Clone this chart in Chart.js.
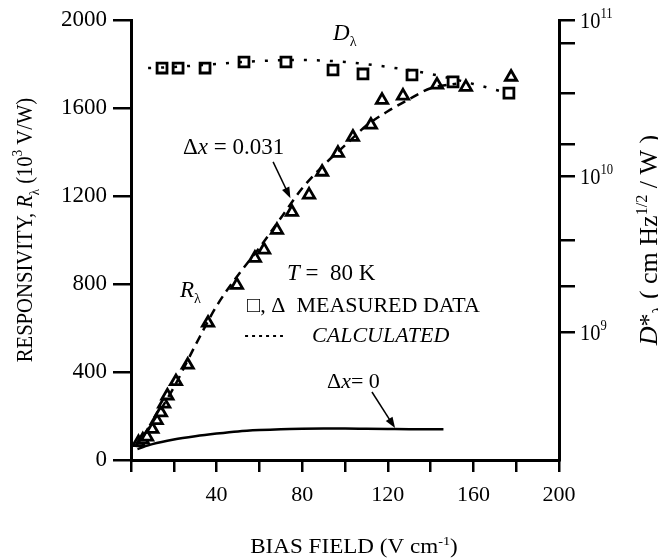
<!DOCTYPE html>
<html>
<head>
<meta charset="utf-8">
<script src="https://cdn.jsdelivr.net/npm/chart.js@4.4.1/dist/chart.umd.min.js"></script>
<style>
  html, body { margin: 0; padding: 0; background: #fff; }
  canvas { display: block; }
</style>
</head>
<body>
<canvas id="myChart" width="658" height="559"></canvas>
<script>
// measured responsivity (triangles), 10^3 V/W vs bias field V/cm
const rMeasField = [3.5, 5.5, 7.5, 10, 12, 14, 15.5, 17, 21, 26.5, 36, 49.5, 57.9, 62.2, 68.2, 75.2, 83.2, 89.3, 96.7, 103.7, 112.1, 117.3, 127.1, 143, 156.5, 177.6];
const rMeasValue = [80, 92, 105, 140, 180, 215, 255, 292, 357, 432, 623, 795, 918, 955, 1045, 1127, 1205, 1309, 1395, 1468, 1523, 1636, 1655, 1705, 1695, 1741];

// calculated responsivity, dx = 0.031 (dashed)
const rCalcField = [2, 10, 20, 30, 40, 50, 60, 70, 80, 90, 100, 110, 120, 130, 140, 152];
const rCalcValue = [60, 170, 330, 520, 700, 840, 965, 1100, 1235, 1340, 1430, 1520, 1585, 1640, 1690, 1710];

// calculated responsivity, dx = 0 (solid)
const rZeroField = [3, 10, 20, 30, 40, 50, 60, 70, 80, 90, 100, 110, 120, 130, 140, 146];
const rZeroValue = [50, 72, 93, 108, 120, 130, 136, 140, 142, 143, 143, 142, 141, 140, 140, 140];

// measured detectivity (squares), cm Hz^1/2 / W
const dMeasField = [14.5, 22, 34.6, 52.8, 72.4, 94.4, 108.4, 131.3, 150.5, 176.6];
const dMeasValue = [4.92e10, 4.92e10, 4.92e10, 5.38e10, 5.38e10, 4.78e10, 4.51e10, 4.44e10, 4.01e10, 3.4e10];

// calculated detectivity (dotted)
const dCalcField = [8, 20, 40, 60, 80, 100, 120, 140, 160, 176];
const dCalcValue = [4.92e10, 5.0e10, 5.23e10, 5.46e10, 5.54e10, 5.38e10, 5.0e10, 4.51e10, 3.89e10, 3.4e10];

const rightTickValues = [1e9, 1.95e9, 3.9e9, 1e10, 1.6e10, 3.4e10, 7.1e10, 1e11];
const rightTickLabels = { 1e9: "9", 1e10: "10", 1e11: "11" };

const serif = '"Liberation Serif", "Times New Roman", serif';

function pts(xs, ys) {
  return xs.map((x, i) => ({ x, y: ys[i] }));
}

function setFont(ctx, style, size) {
  const small = style.includes("sub") || style.includes("sup");
  const fs = small ? size * 0.62 : size;
  ctx.font = `${style.startsWith("i") ? "italic " : ""}${fs}px ${serif}`;
}

function runOffset(style, size) {
  if (style.includes("sub")) return size * 0.28;
  if (style.includes("sup")) return -size * 0.4;
  return 0;
}

// draws a row of text pieces (italic / sub / sup) starting at a baseline point
function drawRuns(ctx, runs, x, y, size, opts = {}) {
  const { align = "left", rot = 0, sx = 1, sy = 1 } = opts;
  ctx.save();
  ctx.translate(x, y);
  ctx.rotate(rot);
  ctx.scale(sx, sy);
  ctx.textBaseline = "alphabetic";
  ctx.textAlign = "left";
  ctx.fillStyle = "#000";
  let w = 0;
  for (const [t, s = ""] of runs) {
    setFont(ctx, s, size);
    w += ctx.measureText(t).width;
  }
  let cx = align === "center" ? -w / 2 : align === "right" ? -w : 0;
  for (const [t, s = ""] of runs) {
    setFont(ctx, s, size);
    ctx.fillText(t, cx, runOffset(s, size));
    cx += ctx.measureText(t).width;
  }
  ctx.restore();
}

function arrow(ctx, x1, y1, x2, y2) {
  const a = Math.atan2(y2 - y1, x2 - x1);
  ctx.save();
  ctx.strokeStyle = "#000";
  ctx.fillStyle = "#000";
  ctx.lineWidth = 1.5;
  ctx.beginPath();
  ctx.moveTo(x1, y1);
  ctx.lineTo(x2 - 6 * Math.cos(a), y2 - 6 * Math.sin(a));
  ctx.stroke();
  ctx.beginPath();
  ctx.moveTo(x2, y2);
  ctx.lineTo(x2 - 11 * Math.cos(a) + 4 * Math.sin(a), y2 - 11 * Math.sin(a) - 4 * Math.cos(a));
  ctx.lineTo(x2 - 11 * Math.cos(a) - 4 * Math.sin(a), y2 - 11 * Math.sin(a) + 4 * Math.cos(a));
  ctx.closePath();
  ctx.fill();
  ctx.restore();
}

const labels = {
  id: "labels",
  afterDraw(chart) {
    const ctx = chart.ctx;
    const xs = chart.scales.x;
    const ys = chart.scales.y;
    const y2 = chart.scales.y2;
    const px = (v) => xs.getPixelForValue(v);
    const py = (v) => ys.getPixelForValue(v);

    // axis titles
    drawRuns(ctx, [["BIAS FIELD (V cm"], ["-1", "sup"], [")"]], 354, 553, 21, { align: "center", sx: 1.1 });
    drawRuns(ctx, [["RESPONSIVITY, "], ["R", "i"], ["λ", "sub"], [" (10"], ["3", "sup"], [" V/W)"]],
      32, 230, 24, { align: "center", rot: -Math.PI / 2, sx: 0.86 });
    drawRuns(ctx, [["D", "i"], ["*"], ["λ", "sub"], [" ( cm Hz"], ["1/2", "sup"], [" / W )"]],
      657, 240, 26, { align: "center", rot: -Math.PI / 2 });

    // right axis decade labels
    for (const v of [1e9, 1e10, 1e11]) {
      const y = y2.getPixelForValue(v);
      drawRuns(ctx, [["10"], [rightTickLabels[v], "sup"]], 580, y + 8, 24, { sx: 0.85 });
    }

    // curve and legend annotations
    drawRuns(ctx, [["D", "i"], ["λ", "sub"]], px(94.4), py(1909), 23);
    drawRuns(ctx, [["Δ"], ["x", "i"], [" = 0.031"]], px(24.3), py(1391), 23);
    arrow(ctx, px(66.4), py(1355), px(74.5), py(1190));
    drawRuns(ctx, [["R", "i"], ["λ", "sub"]], px(22.9), py(741), 23);
    drawRuns(ctx, [["T", "i"], [" =  80 K"]], px(72.9), py(818), 23);
    drawRuns(ctx, [["□"], [", Δ  MEASURED DATA"]], px(54.2), py(673), 22);
    drawRuns(ctx, [["CALCULATED", "i"]], px(84.6), py(536), 22);
    drawRuns(ctx, [["Δ"], ["x", "i"], ["= 0"]], px(91.6), py(327), 22);
    arrow(ctx, px(112.6), py(309), px(123.4), py(145));

    // dotted sample next to CALCULATED
    ctx.save();
    ctx.strokeStyle = "#000";
    ctx.lineWidth = 2;
    ctx.setLineDash([3, 4]);
    ctx.beginPath();
    ctx.moveTo(px(53.3), py(564));
    ctx.lineTo(px(71), py(564));
    ctx.stroke();
    ctx.restore();
  },
};

const tickFont = { family: serif, size: 22 };

const ctx = document.getElementById("myChart").getContext("2d");
new Chart(ctx, {
  type: "scatter",
  data: {
    datasets: [
      {
        label: "calc dx=0",
        data: pts(rZeroField, rZeroValue),
        showLine: true,
        borderColor: "#000",
        borderWidth: 2.5,
        pointRadius: 0,
        cubicInterpolationMode: "monotone",
        yAxisID: "y",
      },
      {
        label: "calc dx=0.031",
        data: pts(rCalcField, rCalcValue),
        showLine: true,
        borderColor: "#000",
        borderWidth: 2.5,
        borderDash: [9, 6],
        pointRadius: 0,
        cubicInterpolationMode: "monotone",
        yAxisID: "y",
      },
      {
        label: "D calc",
        data: pts(dCalcField, dCalcValue),
        showLine: true,
        borderColor: "#000",
        borderWidth: 2.5,
        borderDash: [3, 10],
        pointRadius: 0,
        cubicInterpolationMode: "monotone",
        yAxisID: "y2",
      },
      {
        label: "R measured",
        data: pts(rMeasField, rMeasValue),
        showLine: false,
        pointStyle: "triangle",
        pointRadius: 6.5,
        borderWidth: 2.8,
        borderColor: "#000",
        backgroundColor: "#fff",
        yAxisID: "y",
      },
      {
        label: "D measured",
        data: pts(dMeasField, dMeasValue),
        showLine: false,
        pointStyle: "rect",
        pointRadius: 7,
        borderWidth: 2.8,
        borderColor: "#000",
        backgroundColor: "#fff",
        yAxisID: "y2",
      },
    ],
  },
  options: {
    responsive: false,
    devicePixelRatio: 1,
    animation: false,
    layout: { padding: { top: 20, left: 0, right: 0, bottom: 0 } },
    plugins: {
      legend: { display: false },
      tooltip: { enabled: false },
    },
    scales: {
      x: {
        type: "linear",
        position: "bottom",
        min: 0,
        max: 200,
        afterFit: (s) => { s.height = 99; },
        ticks: {
          stepSize: 20,
          autoSkip: false,
          maxRotation: 0,
          font: tickFont,
          color: "#000",
          padding: 10,
          callback: (v) => (v > 0 && v % 40 === 0 ? String(v) : ""),
        },
        grid: { drawOnChartArea: false, drawTicks: true, tickLength: 12, color: "#000", lineWidth: 2.5 },
        border: { display: true, color: "#000", width: 3 },
      },
      y: {
        type: "linear",
        position: "left",
        min: 0,
        max: 2000,
        afterFit: (s) => { s.width = 131; },
        ticks: {
          stepSize: 400,
          font: { family: serif, size: 23 },
          color: "#000",
          padding: 6,
          callback: (v) => String(v),
        },
        grid: { drawOnChartArea: false, drawTicks: true, tickLength: 18, color: "#000", lineWidth: 2.5 },
        border: { display: true, color: "#000", width: 3 },
      },
      y2: {
        type: "logarithmic",
        position: "right",
        min: 1.51e8,
        max: 1e11,
        afterFit: (s) => { s.width = 99; },
        afterBuildTicks: (s) => { s.ticks = rightTickValues.map((v) => ({ value: v })); },
        ticks: { callback: () => "", font: tickFont },
        grid: { drawOnChartArea: false, drawTicks: true, tickLength: 16, color: "#000", lineWidth: 2.5 },
        border: { display: true, color: "#000", width: 3 },
      },
    },
  },
  plugins: [labels],
});
</script>
</body>
</html>
